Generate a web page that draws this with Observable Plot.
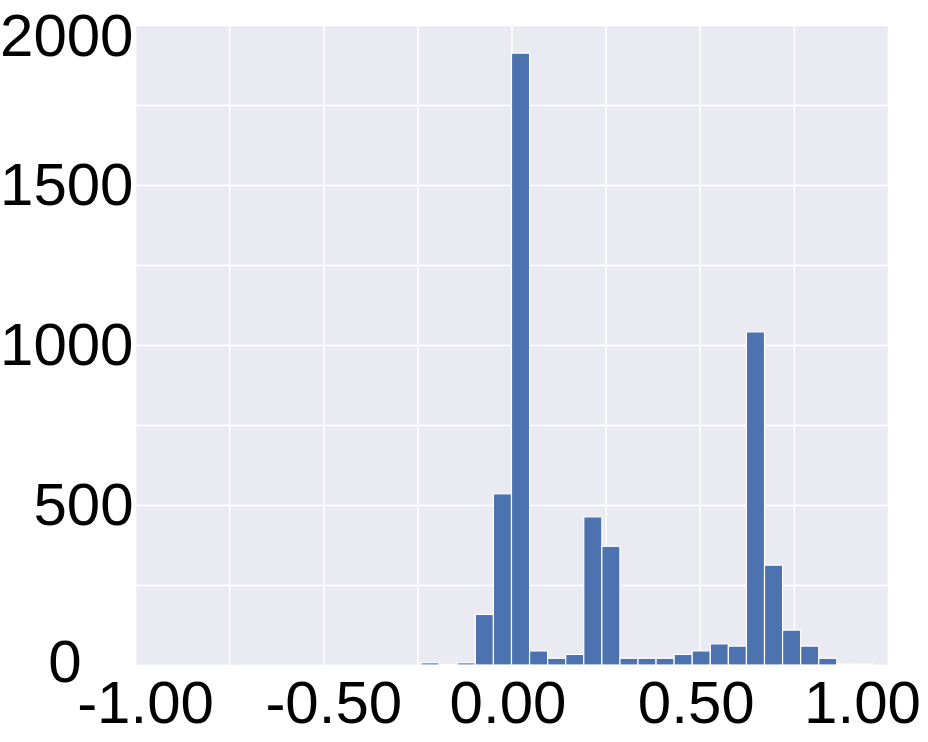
<!DOCTYPE html>
<html>
<head>
<meta charset="utf-8">
<script src="https://cdn.jsdelivr.net/npm/d3@7"></script>
<script src="https://cdn.jsdelivr.net/npm/@observablehq/plot@0.6"></script>
<style>
  html, body { margin: 0; padding: 0; background: white; }
</style>
</head>
<body>
<div id="chart"></div>
<script>
// Histogram bins (left edges, width 0.048) and counts
const binStart = [-0.240, -0.192, -0.144, -0.096, -0.048, 0.000, 0.048, 0.096, 0.144, 0.192,
                  0.240, 0.288, 0.336, 0.384, 0.432, 0.480, 0.528, 0.576, 0.624, 0.672,
                  0.720, 0.768, 0.816, 0.864, 0.912];
const counts   = [7, 2, 7, 158, 535, 1912, 44, 21, 33, 463,
                  371, 21, 21, 21, 33, 44, 66, 59, 1041, 312,
                  109, 59, 21, 3, 3];
const binWidth = 0.048;
const xTicksLeft = [-1, -0.5];
const xTicksMid = [0, 0.5];
const xTicksRight = [1];
const yTicksMid = [500, 1000, 1500];
const yTickTop = [2000];
const yTickZero = [0];
const xGridValues = [-1, -0.75, -0.5, -0.25, 0, 0.25, 0.5, 0.75, 1];
const yGridValues = [0, 250, 500, 750, 1000, 1250, 1500, 1750, 2000];

const bins = binStart.map((x, i) => ({x1: x, x2: x + binWidth, count: counts[i]}));

const fmtX = d => d.toFixed(2);
const fmtY = d => String(d);
const FS = 60;

const chart = Plot.plot({
  width: 928,
  height: 742,
  marginLeft: 135,
  marginRight: 40,
  marginTop: 25,
  marginBottom: 77,
  x: {domain: [-1, 1]},
  y: {domain: [0, 2000]},
  style: {fontFamily: "'Liberation Sans', Arial, sans-serif", fontSize: FS + "px", background: "white", color: "black"},
  marks: [
    Plot.frame({fill: "#EAEAF2", stroke: null}),
    Plot.ruleX(xGridValues, {stroke: "white", strokeWidth: 1.5}),
    Plot.ruleY(yGridValues, {stroke: "white", strokeWidth: 1.5}),
    Plot.rectY(bins, {x1: "x1", x2: "x2", y: "count", fill: "#4C72B0", stroke: "white", strokeWidth: 1.2}),
    Plot.axisY({ticks: yTicksMid, tickSize: 0, tickPadding: 2, fontSize: FS, label: null, tickFormat: fmtY}),
    Plot.axisY({ticks: yTickTop, tickSize: 0, tickPadding: 2, fontSize: FS, label: null, tickFormat: fmtY, dy: 11}),
    Plot.axisY({ticks: yTickZero, tickSize: 0, tickPadding: 2, fontSize: FS, label: null, tickFormat: fmtY, dx: -52, dy: -3}),
    Plot.axisX({ticks: xTicksLeft, tickSize: 0, tickPadding: 15, fontSize: FS, label: null, tickFormat: fmtX, dx: 10}),
    Plot.axisX({ticks: xTicksMid, tickSize: 0, tickPadding: 15, fontSize: FS, label: null, tickFormat: fmtX, dx: -4}),
    Plot.axisX({ticks: xTicksRight, tickSize: 0, tickPadding: 15, fontSize: FS, label: null, tickFormat: fmtX, dx: -26})
  ]
});
document.getElementById("chart").appendChild(chart);
</script>
</body>
</html>
